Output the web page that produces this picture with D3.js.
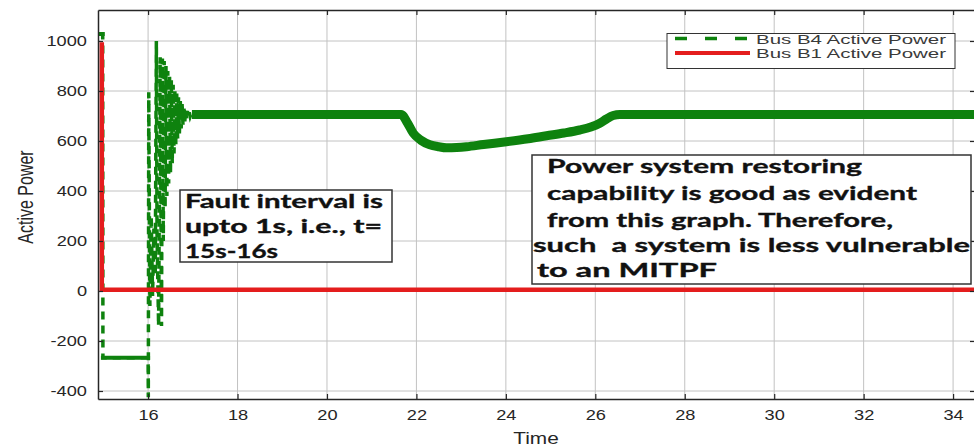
<!DOCTYPE html>
<html>
<head>
<meta charset="utf-8">
<script src="https://cdn.jsdelivr.net/npm/d3@7"></script>
<style>
  html, body { margin: 0; padding: 0; background: #fff; }
  svg { display: block; }
  text { white-space: pre; }
</style>
</head>
<body>
<svg id="chart" width="974" height="447"></svg>
<script>
// Bus B4 active power through the fault and its first swings (dashed trace)
const b4FaultTime  = [14.93, 14.985, 14.99, 16.00, 16.005, 16.015, 16.04, 16.07, 16.10, 16.13, 16.16, 16.185, 16.20,
                      16.235, 16.27, 16.30, 16.32, 16.34, 16.36, 16.38, 16.40, 16.42, 16.44, 16.46, 16.48,
                      16.50, 16.52, 16.54, 16.56, 16.58, 16.60, 16.62, 16.64, 16.66, 16.68, 16.70, 16.72,
                      16.74, 16.76, 16.78, 16.80, 16.82, 16.84, 16.86, 16.88, 16.90, 16.92, 16.94, 16.96, 16.98];
const b4FaultPower = [1028, 1028, -267, -267, -425, 795, -60, 300, -20, 250, 60, 1000, 230,
                      -140, 935, -140, 930, 200, 920, 330, 900, 380, 880, 430, 860,
                      470, 845, 510, 825, 550, 805, 585, 790, 610, 775, 630, 760,
                      650, 748, 665, 738, 676, 728, 685, 720, 693, 714, 698, 708, 706];

// Bus B4 active power after the swings have died out (dense band)
const b4SettleTime  = [16.98, 21.66, 21.8, 21.93, 22.1, 22.3, 22.5, 22.67, 22.9, 23.12, 23.5, 24.01,
                       24.5, 24.91, 25.3, 25.65, 25.9, 26.1, 26.25, 26.4, 26.55, 34.49];
const b4SettlePower = [706, 706, 672, 631, 603, 585, 577, 573, 574, 577, 586, 597,
                       609, 621, 632, 644, 656, 671, 688, 702, 706, 706];

// Bus B1 active power
const b1Time  = [14.965, 14.965, 34.49];
const b1Power = [995, 5, 5];

const xTicks = [16, 18, 20, 22, 24, 26, 28, 30, 32, 34];
const yTicks = [-400, -200, 0, 200, 400, 600, 800, 1000];

const seriesNames = ["Bus B4 Active Power", "Bus B1 Active Power"];
const faultNote   = ["Fault interval is", "upto 1s, i.e., t=", "15s-16s"];
const restoreNote = ["Power system restoring", "capability is good as evident",
                     "from this graph. Therefore,", "such  a system is less vulnerable", "to an MITPF"];

const GREEN = "#0e820e";
const RED = "#e41d1d";
const INK = "#262626";

const svg = d3.select("#chart");
const X0 = 98, X1 = 975, Y0 = 10, Y1 = 399;

const x = d3.scaleLinear().domain([14.88, 34.49]).range([X0, X1]);
const y = d3.scaleLinear().domain([-432, 1124]).range([Y1, Y0]);

// widen glyphs horizontally by a factor, keeping their height
function stretch(sel, k) {
  sel.each(function () {
    const w = this.getComputedTextLength();
    d3.select(this).attr("textLength", w * k).attr("lengthAdjust", "spacingAndGlyphs");
  });
}
const K = 1.3;

// grid
const grid = svg.append("g").attr("stroke", "#c2c2c2").attr("stroke-width", 1);
grid.selectAll(".gx").data(xTicks).join("line")
  .attr("x1", d => x(d)).attr("x2", d => x(d)).attr("y1", Y0).attr("y2", Y1);
grid.selectAll(".gy").data(yTicks).join("line")
  .attr("x1", X0).attr("x2", X1).attr("y1", d => y(d)).attr("y2", d => y(d));

// traces
svg.append("clipPath").attr("id", "plotArea")
  .append("rect").attr("x", X0).attr("y", Y0).attr("width", X1 - X0).attr("height", Y1 - Y0);
const plot = svg.append("g").attr("clip-path", "url(#plotArea)");

const line = d3.line().x(d => x(d[0])).y(d => y(d[1]));
const faultPts = b4FaultTime.map((t, i) => [t, b4FaultPower[i]]);
const settlePts = b4SettleTime.map((t, i) => [t, b4SettlePower[i]]);
const b1Pts = b1Time.map((t, i) => [t, b1Power[i]]);

plot.append("path").datum(faultPts)
  .attr("d", line).attr("fill", "none")
  .attr("stroke", GREEN).attr("stroke-width", 3.5)
  .attr("stroke-dasharray", "8,6");

// level stretches of the fault trace are dense and read as a continuous line
const levelSegs = d3.pairs(faultPts).filter(([a, b]) => Math.abs(a[1] - b[1]) < 1);
plot.selectAll(".lvl").data(levelSegs).join("path")
  .attr("d", d => line(d)).attr("fill", "none")
  .attr("stroke", GREEN).attr("stroke-width", 4).attr("stroke-linecap", "square");

plot.append("path").datum(settlePts)
  .attr("d", line.curve(d3.curveMonotoneX)).attr("fill", "none")
  .attr("stroke", GREEN).attr("stroke-width", 9).attr("stroke-linejoin", "round");
line.curve(d3.curveLinear);

plot.append("path").datum(b1Pts)
  .attr("d", line).attr("fill", "none")
  .attr("stroke", RED).attr("stroke-width", 4.5);

// axes
const fmt = d => String(d);
const axisFont = g => g.selectAll("text")
  .attr("fill", INK).style("font-family", "'Liberation Sans', Arial, sans-serif").style("font-size", "14px");

const gLeft = svg.append("g").attr("transform", `translate(${X0},0)`)
  .call(d3.axisLeft(y).tickValues(yTicks).tickFormat(fmt).tickSizeInner(-5).tickSizeOuter(0).tickPadding(11));
const gBottom = svg.append("g").attr("transform", `translate(0,${Y1})`)
  .call(d3.axisBottom(x).tickValues(xTicks).tickFormat(fmt).tickSizeInner(-5).tickSizeOuter(0).tickPadding(11));
const gTop = svg.append("g").attr("transform", `translate(0,${Y0})`)
  .call(d3.axisTop(x).tickValues(xTicks).tickFormat("").tickSizeInner(-5).tickSizeOuter(0));
const gRight = svg.append("g").attr("transform", `translate(${X1},0)`)
  .call(d3.axisRight(y).tickValues(yTicks).tickFormat("").tickSizeInner(-5).tickSizeOuter(0));

[gLeft, gBottom, gTop, gRight].forEach(g => {
  g.select(".domain").attr("stroke", INK).attr("stroke-width", 1.5);
  g.selectAll(".tick line").attr("stroke", INK).attr("stroke-width", 1.2);
  axisFont(g);
});
stretch(gLeft.selectAll("text"), K);
stretch(gBottom.selectAll("text"), K);

// axis titles
svg.append("text")
  .attr("transform", `translate(33,197) scale(1.4,1) rotate(-90)`)
  .attr("text-anchor", "middle").attr("fill", INK)
  .style("font-family", "'Liberation Sans', Arial, sans-serif").style("font-size", "16px")
  .text("Active Power");

const xTitle = svg.append("text")
  .attr("x", 536).attr("y", 444).attr("text-anchor", "middle").attr("fill", INK)
  .style("font-family", "'Liberation Sans', Arial, sans-serif").style("font-size", "16px")
  .text("Time");
stretch(xTitle, K);

// legend
const legend = svg.append("g");
legend.append("rect").attr("x", 667).attr("y", 33.5).attr("width", 288).attr("height", 35)
  .attr("fill", "#fff").attr("stroke", "#333").attr("stroke-width", 1);
const legendRows = [
  { name: seriesNames[0], color: GREEN, dash: "12,18", y: 38.5 },
  { name: seriesNames[1], color: RED, dash: null, y: 53 }
];
legendRows.forEach(r => {
  legend.append("line").attr("x1", 675).attr("x2", 750).attr("y1", r.y).attr("y2", r.y)
    .attr("stroke", r.color).attr("stroke-width", r.dash ? 3.5 : 4)
    .attr("stroke-dasharray", r.dash);
  legend.append("text").attr("x", 756).attr("y", r.y + 5).attr("fill", "#3a3a3a")
    .style("font-family", "'Liberation Sans', Arial, sans-serif").style("font-size", "12.5px")
    .attr("textLength", 190).attr("lengthAdjust", "spacingAndGlyphs")
    .text(r.name);
});

// annotation boxes
function noteBox(box, lines) {
  const g = svg.append("g");
  g.append("rect").attr("x", box.x).attr("y", box.y).attr("width", box.w).attr("height", box.h)
    .attr("fill", "#fff").attr("stroke", "#333").attr("stroke-width", 1.5);
  lines.forEach((t, i) => {
    g.append("text")
      .attr("x", box.lx[i]).attr("y", box.by[i]).attr("fill", "#111")
      .attr("stroke", "#111").attr("stroke-width", 0.35)
      .style("font-family", "Lato, 'Open Sans', sans-serif").style("font-weight", 700)
      .style("font-size", box.fs + "px")
      .attr("textLength", box.tw[i]).attr("lengthAdjust", "spacingAndGlyphs")
      .text(t);
  });
}
noteBox({ x: 180, y: 190, w: 212, h: 72, fs: 19.5,
          lx: [185, 185, 185], by: [208, 233, 258], tw: [198, 197, 93] }, faultNote);
noteBox({ x: 532, y: 155, w: 439, h: 129, fs: 19.5,
          lx: [547, 547, 547, 533, 537], by: [173, 200, 227, 252, 277], tw: [315, 370, 346, 437, 180] },
        restoreNote);
</script>
</body>
</html>
